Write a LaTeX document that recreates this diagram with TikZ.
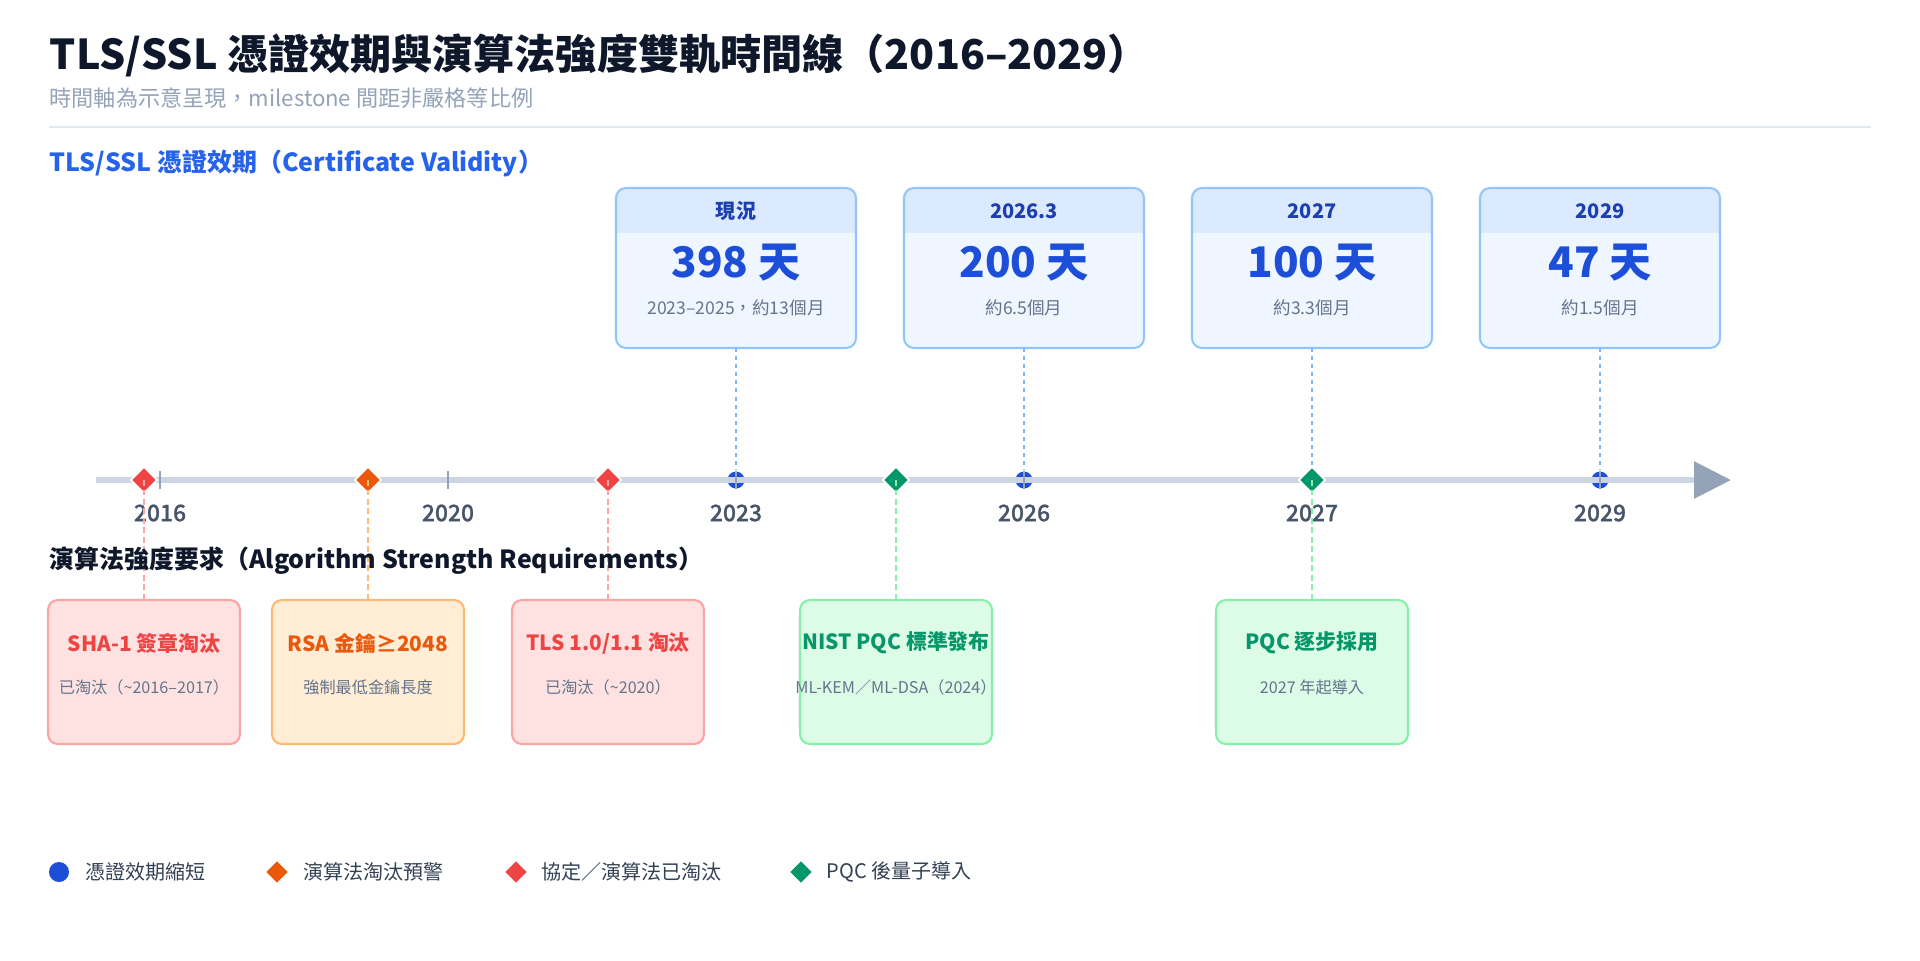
\documentclass[tikz,border=0pt]{standalone}
\usepackage{fontspec}
\setmainfont{Noto Sans CJK TC}
\newfontfamily\medfont{Noto Sans CJK TC Medium}[FakeBold=0.8]
\usepackage{tikz}
\usetikzlibrary{arrows.meta,shapes,positioning}
\usepackage{xcolor}
\definecolor{dfnavy}{RGB}{15,23,42}
\definecolor{dfgray}{RGB}{148,163,184}
\definecolor{dfsep}{RGB}{226,232,240}
\definecolor{dfblue}{RGB}{37,99,235}
\definecolor{dfdeep}{RGB}{29,78,216}
\definecolor{dfhead}{RGB}{30,64,175}
\definecolor{cardfill}{RGB}{239,246,255}
\definecolor{cardband}{RGB}{219,234,254}
\definecolor{cardline}{RGB}{147,197,253}
\definecolor{dashblue}{RGB}{125,180,251}
\definecolor{dfslate}{RGB}{100,116,139}
\definecolor{dfyear}{RGB}{71,85,105}
\definecolor{dflegend}{RGB}{51,65,85}
\definecolor{axisgray}{RGB}{203,213,225}
\definecolor{dfred}{RGB}{239,68,68}
\definecolor{redfill}{RGB}{254,226,226}
\definecolor{redline}{RGB}{252,165,165}
\definecolor{dforange}{RGB}{234,88,12}
\definecolor{orangefill}{RGB}{255,237,213}
\definecolor{orangeline}{RGB}{253,186,116}
\definecolor{dfgreen}{RGB}{5,150,105}
\definecolor{greenfill}{RGB}{220,252,231}
\definecolor{greenline}{RGB}{134,239,172}
\tikzstyle{lefttext} = [anchor=west, inner sep=0pt]
\tikzstyle{titletext} = [lefttext, font=\fontsize{11.7}{14}\selectfont\bfseries, text=dfnavy]
\tikzstyle{subtitletext} = [lefttext, font=\fontsize{6.3}{8}\selectfont, text=dfgray]
\tikzstyle{sectiontext} = [lefttext, font=\fontsize{7.1}{9}\selectfont\bfseries]
\tikzstyle{topcard} = [draw=cardline, line width=0.6pt, fill=cardfill, rounded corners=0.1cm,
  minimum width=2.4cm, minimum height=1.6cm, inner sep=0pt, outer sep=0pt,
  path picture={\fill[cardband, sharp corners] (path picture bounding box.north west) rectangle ([yshift=-0.45cm]path picture bounding box.north east);}]
\tikzstyle{bandtext} = [inner sep=0pt, font=\fontsize{5.7}{7}\selectfont\bfseries, text=dfhead]
\tikzstyle{bignum} = [inner sep=0pt, font=\fontsize{12}{14}\selectfont\bfseries, text=dfdeep]
\tikzstyle{subtext} = [inner sep=0pt, font=\fontsize{5}{6}\selectfont, text=dfslate]
\tikzstyle{lowcard} = [line width=0.6pt, rounded corners=0.1cm, minimum width=1.92cm,
  minimum height=1.44cm, inner sep=0pt, outer sep=0pt]
\tikzstyle{cardtitle} = [inner sep=0pt, font=\fontsize{5.95}{7}\selectfont\bfseries]
\tikzstyle{cardsub} = [inner sep=0pt, font=\fontsize{4.6}{6}\selectfont, text=dfslate]
\tikzstyle{dot} = [circle, inner sep=0pt, minimum size=0.19cm, fill=dfdeep, draw=white, line width=0.5pt]
\tikzstyle{dia} = [diamond, inner sep=0pt, minimum size=0.27cm, draw=white, line width=0.5pt]
\tikzstyle{topdash} = [line width=0.6pt, dash pattern=on 1.15pt off 1.15pt, dashblue]
\tikzstyle{lowdash} = [line width=0.6pt, dash pattern=on 1.6pt off 1.1pt]
\tikzstyle{axisline} = [line width=1.7pt, color=axisgray, -{Triangle[length=3.7mm,width=3.6mm,color=dfgray]}]
\tikzstyle{tickmark} = [line width=0.55pt, color=dfgray]
\tikzstyle{yearlab} = [inner sep=0pt, font=\fontsize{6.5}{8}\selectfont\medfont, text=dfyear]
\tikzstyle{legtext} = [lefttext, font=\fontsize{5.7}{7}\selectfont, text=dflegend]

\begin{document}
\begin{tikzpicture}
% Canvas
\fill[white] (0,0) rectangle (19.2,-9.6);
\useasboundingbox (0,0) rectangle (19.2,-9.6);

% Title
\node[titletext] (title) at (0.49,-0.55) {TLS/SSL 憑證效期與演算法強度雙軌時間線（2016–2029）};
\node[subtitletext] (subtitle) at (0.49,-0.98) {時間軸為示意呈現，milestone 間距非嚴格等比例};
\draw[dfsep, line width=0.5pt] (0.49,-1.27) -- (18.71,-1.27);

% Certificate validity cards
\node[sectiontext, text=dfblue] (certhead) at (0.49,-1.63) {TLS/SSL 憑證效期（Certificate Validity）};
\node[topcard] (c1) at (7.36,-2.68) {};
\node[bandtext] at (7.36,-2.11) {現況};
\node[bignum] at (7.36,-2.63) {398 天};
\node[subtext] at (7.36,-3.08) {2023–2025，約13個月};
\node[topcard] (c2) at (10.24,-2.68) {};
\node[bandtext] at (10.24,-2.11) {2026.3};
\node[bignum] at (10.24,-2.63) {200 天};
\node[subtext] at (10.24,-3.08) {約6.5個月};
\node[topcard] (c3) at (13.12,-2.68) {};
\node[bandtext] at (13.12,-2.11) {2027};
\node[bignum] at (13.12,-2.63) {100 天};
\node[subtext] at (13.12,-3.08) {約3.3個月};
\node[topcard] (c4) at (16.00,-2.68) {};
\node[bandtext] at (16.00,-2.11) {2029};
\node[bignum] at (16.00,-2.63) {47 天};
\node[subtext] at (16.00,-3.08) {約1.5個月};

% Algorithm cards
\node[lowcard, draw=redline, fill=redfill] (a1) at (1.44,-6.72) {};
\node[cardtitle, text=dfred] at (1.44,-6.43) {SHA-1 簽章淘汰};
\node[cardsub] at (1.44,-6.87) {已淘汰（\textasciitilde2016–2017）};
\node[lowcard, draw=orangeline, fill=orangefill] (a2) at (3.68,-6.72) {};
\node[cardtitle, text=dforange] at (3.68,-6.43) {RSA 金鑰≥2048};
\node[cardsub] at (3.68,-6.87) {強制最低金鑰長度};
\node[lowcard, draw=redline, fill=redfill] (a3) at (6.08,-6.72) {};
\node[cardtitle, text=dfred] at (6.08,-6.43) {TLS 1.0/1.1 淘汰};
\node[cardsub] at (6.08,-6.87) {已淘汰（\textasciitilde2020）};
\node[lowcard, draw=greenline, fill=greenfill] (a4) at (8.96,-6.72) {};
\node[cardtitle, text=dfgreen] at (8.96,-6.43) {NIST PQC 標準發布};
\node[cardsub] at (8.96,-6.87) {ML-KEM／ML-DSA（2024）};
\node[lowcard, draw=greenline, fill=greenfill] (a5) at (13.12,-6.72) {};
\node[cardtitle, text=dfgreen] at (13.12,-6.43) {PQC 逐步採用};
\node[cardsub] at (13.12,-6.87) {2027 年起導入};

% Timeline points
\coordinate (axstart) at (0.96,-4.8);
\coordinate (axend) at (17.31,-4.8);
\coordinate (k1) at (7.36,-4.8);
\coordinate (k2) at (10.24,-4.8);
\coordinate (k3) at (13.12,-4.8);
\coordinate (k4) at (16.00,-4.8);

% Card links
\draw[topdash] (c1.south) -- (k1);
\draw[topdash] (c2.south) -- (k2);
\draw[topdash] (c3.south) -- (k3);
\draw[topdash] (c4.south) -- (k4);
\node[dot] (d1) at (k1) {};
\node[dot] (d2) at (k2) {};
\node[dot] (d4) at (k4) {};

% Axis
\draw[axisline] (axstart) -- (axend);
\foreach \x in {1.60,4.48,7.36,10.24,13.12,16.00}
  \draw[tickmark] (\x,-4.71) -- (\x,-4.89);
\foreach \x/\yr in {1.60/2016,4.48/2020,7.36/2023,10.24/2026,13.12/2027,16.00/2029}
  \node[yearlab] (y\yr) at (\x,-5.13) {\yr};

% Algorithm markers
\node[dia, fill=dfred] (r1) at (1.44,-4.8) {};
\node[dia, fill=dforange] (r2) at (3.68,-4.8) {};
\node[dia, fill=dfred] (r3) at (6.08,-4.8) {};
\node[dia, fill=dfgreen] (g1) at (8.96,-4.8) {};
\node[dia, fill=dfgreen] (g2) at (k3) {};
\draw[lowdash, redline] (r1.center) -- (a1.north);
\draw[lowdash, orangeline] (r2.center) -- (a2.north);
\draw[lowdash, redline] (r3.center) -- (a3.north);
\draw[lowdash, greenline] (g1.center) -- (a4.north);
\draw[lowdash, greenline] (g2.center) -- (a5.north);

\node[sectiontext, text=dfnavy] (algohead) at (0.49,-5.61) {演算法強度要求（Algorithm Strength Requirements）};

% Legend
\node[dot, draw=none, minimum size=0.2cm] (l1) at (0.59,-8.72) {};
\node[legtext, right=0.15cm of l1] (l1t) {憑證效期縮短};
\node[dia, draw=none, fill=dforange, minimum size=0.22cm] (l2) at (2.77,-8.72) {};
\node[legtext, right=0.14cm of l2] (l2t) {演算法淘汰預警};
\node[dia, draw=none, fill=dfred, minimum size=0.22cm] (l3) at (5.16,-8.72) {};
\node[legtext, right=0.13cm of l3] (l3t) {協定／演算法已淘汰};
\node[dia, draw=none, fill=dfgreen, minimum size=0.22cm] (l4) at (8.01,-8.72) {};
\node[legtext, right=0.13cm of l4] (l4t) {PQC 後量子導入};
\end{tikzpicture}
\end{document}
